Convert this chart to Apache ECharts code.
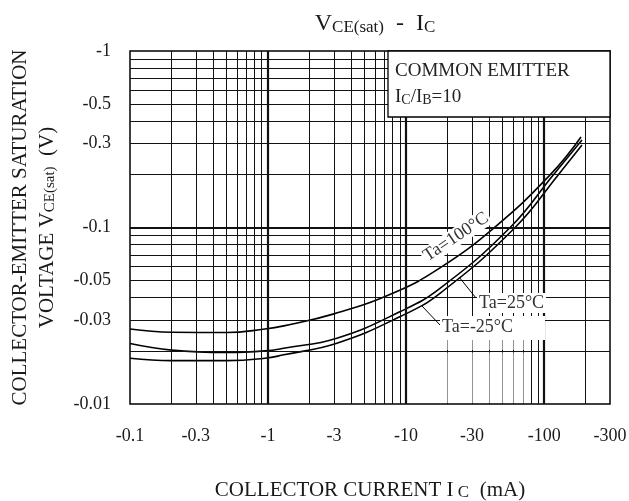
<!DOCTYPE html>
<html><head><meta charset="utf-8">
<script src="https://cdn.jsdelivr.net/npm/echarts@6/dist/echarts.min.js"></script>
<style>html,body{margin:0;padding:0;background:#fff}#c{width:629px;height:501px}</style>
</head><body><div id="c"></div>
<script>
// ---- data ----
const current100 = [0.1, 0.2, 0.5, 0.95, 1.3, 3, 8, 17.6, 44, 110, 185];
const vce100     = [0.0266, 0.0255, 0.0254, 0.0266, 0.0277, 0.0324, 0.0424, 0.059, 0.1006, 0.198, 0.326];
const current25  = [0.1, 0.2, 0.5, 0.95, 1.3, 3.15, 9, 17.6, 56.7, 116, 188];
const vce25      = [0.0220, 0.0202, 0.0196, 0.0200, 0.0207, 0.0236, 0.0333, 0.0452, 0.1, 0.198, 0.313];
const currentM25 = [0.1, 0.2, 0.5, 0.95, 1.3, 3.15, 9, 17.6, 61.6, 126, 188];
const vceM25     = [0.01815, 0.0176, 0.0176, 0.01815, 0.0190, 0.0221, 0.0312, 0.0424, 0.1, 0.198, 0.293];

const xTickLabels = [0.1, 0.3, 1, 3, 10, 30, 100, 300];
const yTickLabels = [0.01, 0.03, 0.05, 0.1, 0.3, 0.5, 1];
const xMinorGrid = [0.2,0.3,0.4,0.5,0.6,0.7,0.8,0.9, 2,3,4,5,6,7,8,9, 20,30,40,50,60,70,80,90, 200];
const xMajorGrid = [1, 10, 100];
const yMinorGrid = [0.02,0.03,0.04,0.05,0.06,0.07,0.08,0.09, 0.2,0.3,0.4,0.5,0.6,0.7,0.8,0.9];
const yMajorGrid = [0.1];

// ---- chart ----
const serif = '"Liberation Serif", "Times New Roman", serif';
const fmt = v => '-' + parseFloat(Number(v).toPrecision(6)).toString();
const pairs = (xs, ys) => xs.map((x, i) => [x, ys[i]]);
const richT = (size, lh) => ({fontFamily: serif, fontSize: size, fontWeight: 'normal', lineHeight: lh, verticalAlign: 'bottom', color: '#1a1a1a'});
const curve = (name, xs, ys) => ({
  name, type: 'line', data: pairs(xs, ys), smooth: 0.45, showSymbol: false, symbol: 'none',
  lineStyle: {color: '#000', width: 1.6}, z: 3, silent: true
});

const gridLines = [].concat(
  xMinorGrid.map(v => ({xAxis: v})),
  xMajorGrid.map(v => ({xAxis: v, lineStyle: {width: 2.2}})),
  yMinorGrid.map(v => ({yAxis: v})),
  yMajorGrid.map(v => ({yAxis: v, lineStyle: {width: 2.2}}))
);

const chart = echarts.init(document.getElementById('c'));
chart.setOption({
  animation: false,
  backgroundColor: '#fff',
  title: {
    text: '{t|V}{s|CE(sat)}{t|  -  I}{s|C}',
    left: 370, top: 3, textAlign: 'center',
    textStyle: {fontWeight: 'normal', rich: {t: richT(24, 28), s: richT(17, 12)}}
  },
  grid: {left: 130, right: 19, top: 51, bottom: 97, outerBoundsMode: 'none', containLabel: false,
         show: true, borderColor: '#000', borderWidth: 1.5, backgroundColor: '#fff'},
  xAxis: {
    type: 'log', logBase: 10, min: 0.1, max: 300,
    axisLine: {show: false}, axisTick: {show: false}, splitLine: {show: false},
    axisLabel: {customValues: xTickLabels, formatter: fmt, margin: 23, fontFamily: serif, fontSize: 18, color: '#1a1a1a'},
    name: '{t|COLLECTOR CURRENT I}{s| C}{t|  (mA)}',
    nameLocation: 'middle', nameGap: 71,
    nameTextStyle: {rich: {t: richT(21, 26), s: richT(17, 10)}}
  },
  yAxis: {
    type: 'log', logBase: 10, min: 0.01, max: 1,
    axisLine: {show: false}, axisTick: {show: false}, splitLine: {show: false},
    axisLabel: {customValues: yTickLabels, formatter: fmt, margin: 19, fontFamily: serif, fontSize: 18, color: '#1a1a1a'},
    name: '{t|COLLECTOR-EMITTER SATURATION}\n{t|VOLTAGE V}{s|CE(sat)}{t|  (V)}',
    nameLocation: 'middle', nameGap: 72, nameRotate: 90,
    nameTextStyle: {rich: {t: richT(21, 27), s: richT(15, 12)}}
  },
  series: [
    {
      type: 'line', data: [[0.1, 0.01]], showSymbol: false, symbol: 'none', lineStyle: {opacity: 0}, z: 1, silent: true,
      markLine: {
        silent: true, symbol: ['none', 'none'], label: {show: false}, animation: false,
        lineStyle: {color: '#111', width: 1, type: 'solid'},
        emphasis: {disabled: true},
        data: gridLines
      }
    },
    curve('Ta=100°C', current100, vce100),
    curve('Ta=25°C', current25, vce25),
    curve('Ta=-25°C', currentM25, vceM25)
  ],
  graphic: [
    {type: 'rect', z: 20, shape: {x: 388, y: 51, width: 222, height: 66}, style: {fill: '#fff', stroke: '#000', lineWidth: 1.3}},
    {type: 'text', z: 21, x: 395, y: 71, style: {text: 'COMMON EMITTER', font: '19px "Liberation Serif"', fill: '#222', verticalAlign: 'middle'}},
    {type: 'text', z: 21, x: 395, y: 96, style: {
      text: '{t|I}{s|C}{t|/I}{s|B}{t|=10}', verticalAlign: 'middle',
      rich: {t: {fontFamily: serif, fontSize: 19, lineHeight: 22, verticalAlign: 'bottom', fill: '#222'},
             s: {fontFamily: serif, fontSize: 14, lineHeight: 10, verticalAlign: 'bottom', fill: '#222'}}
    }},
    {type: 'rect', z: 9, shape: {x: 441, y: 316, width: 104, height: 24}, style: {fill: '#fff'}},
    {type: 'rect', z: 9, shape: {x: 441, y: 340, width: 88, height: 10}, style: {fill: 'rgba(255,255,255,0.55)'}},
    {type: 'rect', z: 9, shape: {x: 441, y: 352.5, width: 88, height: 50.5}, style: {fill: 'rgba(255,255,255,0.55)'}},
    {type: 'text', z: 10, x: 456, y: 237, rotation: 0.588, style: {text: 'Ta=100°C', font: '18px "Liberation Serif"', fill: '#333', align: 'center', verticalAlign: 'middle', backgroundColor: '#fff', padding: [0, 2]}},
    {type: 'text', z: 10, x: 477, y: 303, style: {text: 'Ta=25°C', font: '18px "Liberation Serif"', fill: '#333', align: 'left', verticalAlign: 'middle', backgroundColor: '#fff', padding: [1, 2]}},
    {type: 'text', z: 10, x: 440, y: 327, style: {text: 'Ta=-25°C', font: '18px "Liberation Serif"', fill: '#333', align: 'left', verticalAlign: 'middle', backgroundColor: '#fff', padding: [1, 2]}},
    {type: 'line', z: 11, shape: {x1: 459, y1: 277, x2: 476, y2: 298}, style: {stroke: '#000', lineWidth: 1}},
    {type: 'line', z: 11, shape: {x1: 422, y1: 306, x2: 440, y2: 325}, style: {stroke: '#000', lineWidth: 1}}
  ]
});
</script>
</body></html>
